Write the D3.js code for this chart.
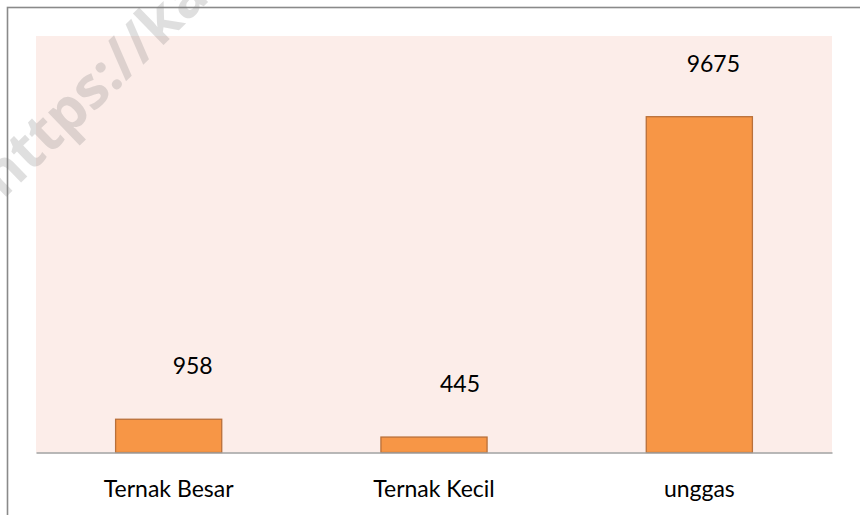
<!DOCTYPE html>
<html lang="id">
<head>
<meta charset="UTF-8">
<title>Ternak</title>
<style>
  body { margin: 0; background: #fff; }
  svg text { font-family: Lato, "Liberation Sans", sans-serif; }
</style>
</head>
<body>
<div id="chart"></div>
<script src="https://d3js.org/d3.v7.min.js"></script>
<script>
  // data
  const categories = ['Ternak Besar', 'Ternak Kecil', 'unggas'];
  const values = [958, 445, 9675];
  const yMax = 12000;

  const w = 860, h = 515;
  const plot = { left: 36, right: 832, top: 36, bottom: 452.5 };
  const labelShift = [24, 26, 14]; // data labels were nudged right in the original
  const fontSize = 23;

  const svg = d3.select('#chart').append('svg')
    .attr('width', w)
    .attr('height', h);

  // outer chart frame (runs off the right / bottom edge)
  svg.append('rect')
    .attr('x', 7.5).attr('y', 7.5)
    .attr('width', 900).attr('height', 600)
    .attr('fill', '#fff')
    .attr('stroke', '#8a8a8a')
    .attr('stroke-width', 1.6);

  const x = d3.scaleBand()
    .domain(categories)
    .range([plot.left, plot.right])
    .paddingInner(0.6)
    .paddingOuter(0.3);

  const y = d3.scaleLinear()
    .domain([0, yMax])
    .range([plot.bottom, plot.top]);

  // plot area
  svg.append('rect')
    .attr('x', plot.left).attr('y', plot.top)
    .attr('width', plot.right - plot.left)
    .attr('height', plot.bottom - plot.top)
    .attr('fill', '#fcede9');

  svg.selectAll('rect.bar')
    .data(values)
    .enter()
    .append('rect')
    .attr('class', 'bar')
    .attr('x', (d, i) => x(categories[i]))
    .attr('y', d => y(d))
    .attr('width', x.bandwidth())
    .attr('height', d => y(0) - y(d))
    .attr('fill', '#f79646')
    .attr('stroke', '#b9703a')
    .attr('stroke-width', 1.3);

  // category axis
  const xAxis = d3.axisBottom(x).tickSize(0).tickPadding(28);
  const gx = svg.append('g')
    .attr('transform', `translate(0,${plot.bottom})`)
    .call(xAxis);
  gx.select('.domain').attr('stroke', '#a0a0a0').attr('stroke-width', 1.6);
  gx.selectAll('text')
    .attr('font-size', fontSize)
    .attr('fill', '#000')
    .style('font-family', 'Lato, sans-serif');

  // data labels
  svg.selectAll('text.val')
    .data(values)
    .enter()
    .append('text')
    .attr('class', 'val')
    .attr('x', (d, i) => x(categories[i]) + x.bandwidth() / 2 + labelShift[i])
    .attr('y', d => y(d) - 45)
    .attr('text-anchor', 'middle')
    .attr('font-size', fontSize)
    .attr('fill', '#000')
    .text(d => d);

  // watermark, cut by the image edge in the original
  svg.append('text')
    .attr('transform', 'translate(3,200) rotate(-44)')
    .attr('font-size', 58)
    .attr('font-weight', 'bold')
    .style('font-family', '"Open Sans", sans-serif')
    .attr('fill', 'rgba(128,128,128,0.25)')
    .text('https://kabar');
</script>
</body>
</html>
